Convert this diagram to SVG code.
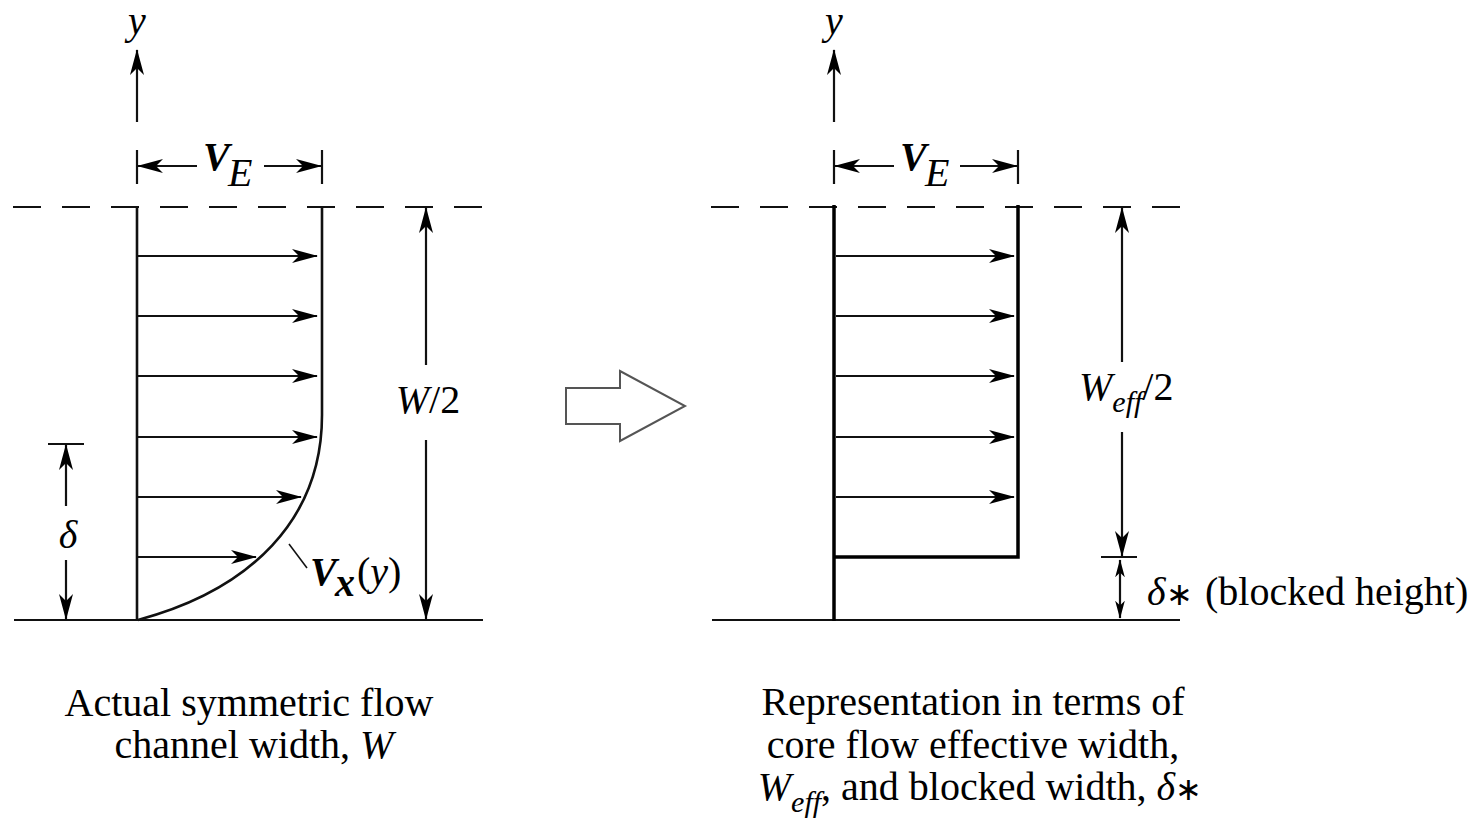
<svg xmlns="http://www.w3.org/2000/svg" width="1482" height="821" viewBox="0 0 1482 821">
<style>
.ln{stroke:#111;stroke-width:2.2;fill:none}
.thk{stroke:#000;stroke-width:3.5;fill:none}
.dash{stroke:#111;stroke-width:2;stroke-dasharray:28 21;fill:none}
.t{font-family:"Liberation Serif","Times New Roman",serif;fill:#000;font-size:40px}
.i{font-style:italic}
.b{font-weight:bold}
.ar{marker-end:url(#ah)}
</style>
<defs>
<marker id="ah" markerUnits="userSpaceOnUse" viewBox="0 0 26 14" markerWidth="26" markerHeight="14" refX="25" refY="7" orient="auto">
<path d="M0,0 L26,7 L0,14 L7,7 z" fill="#000"/>
</marker>
<marker id="ahm" markerUnits="userSpaceOnUse" viewBox="0 0 26 14" markerWidth="18" markerHeight="10" refX="25" refY="7" orient="auto-start-reverse">
<path d="M0,0 L26,7 L0,14 L7,7 z" fill="#000"/>
</marker>
</defs>

<g id="left-panel">
<line class="dash" x1="13" y1="207" x2="484" y2="207"/>
<line class="ln" x1="14" y1="620" x2="483" y2="620"/>
<line class="ln" x1="137" y1="207" x2="137" y2="620" style="stroke-width:2.6"/>
<path class="ln" d="M322,207 L322,415 C322,520 250,590 138,620" style="stroke-width:2.6"/>
<g id="left-y-axis">
<line class="ln ar" x1="137" y1="122" x2="137" y2="50"/>
<text class="t i" x="137" y="34" text-anchor="middle" font-size="35">y</text>
</g>
<g id="left-ve">
<line class="ln" x1="137" y1="150" x2="137" y2="184"/>
<line class="ln" x1="322" y1="150" x2="322" y2="184"/>
<line class="ln ar" x1="197" y1="166" x2="138" y2="166"/>
<line class="ln ar" x1="264" y1="166" x2="321" y2="166"/>
<text class="t i b" x="203" y="170" font-size="46" fill="#333">V</text>
<text class="t i" x="228" y="186" font-size="32">E</text>
</g>
<g id="left-velocity-arrows">
<line class="ln ar" x1="137" y1="256" x2="317" y2="256"/>
<line class="ln ar" x1="137" y1="316" x2="317" y2="316"/>
<line class="ln ar" x1="137" y1="376" x2="317" y2="376"/>
<line class="ln ar" x1="137" y1="437" x2="317" y2="437"/>
<line class="ln ar" x1="137" y1="497" x2="301" y2="497"/>
<line class="ln ar" x1="137" y1="557" x2="256" y2="557"/>
</g>
<g id="left-w2">
<line class="ln ar" x1="426" y1="365" x2="426" y2="208"/>
<line class="ln ar" x1="426" y1="440" x2="426" y2="619"/>
<text class="t" x="428" y="413" text-anchor="middle"><tspan class="i">W</tspan>/2</text>
</g>
<g id="left-delta">
<line class="ln" x1="48" y1="444" x2="84" y2="444"/>
<line class="ln ar" x1="66" y1="506" x2="66" y2="445"/>
<line class="ln ar" x1="66" y1="560" x2="66" y2="619"/>
<text class="t i" x="68" y="548" text-anchor="middle">δ</text>
</g>
<g id="left-vx">
<line class="ln" x1="289" y1="544" x2="307" y2="568" style="stroke-width:1.6"/>
<text class="t i b" x="310" y="585" font-size="42" fill="#333">V</text>
<text class="t i b" x="335" y="596" font-size="26" fill="#333">x</text>
<text class="t" x="357" y="585">(<tspan class="i">y</tspan>)</text>
</g>
<g id="left-caption">
<text class="t" x="249" y="716" text-anchor="middle">Actual symmetric flow</text>
<text class="t" x="254" y="758" text-anchor="middle">channel width, <tspan class="i">W</tspan></text>
</g>
</g>

<g id="transform-arrow">
<path d="M566,388 L620,388 L620,371 L685,406 L620,441 L620,424 L566,424 Z" fill="#fff" stroke="#555" stroke-width="2"/>
</g>

<g id="right-panel">
<line class="dash" x1="711" y1="207" x2="1182" y2="207"/>
<line class="ln" x1="712" y1="620" x2="1180" y2="620"/>
<line class="thk" x1="834" y1="205" x2="834" y2="621"/>
<path class="thk" d="M1018,205 L1018,557 L834,557"/>
<g id="right-y-axis">
<line class="ln ar" x1="834" y1="122" x2="834" y2="50"/>
<text class="t i" x="834" y="34" text-anchor="middle" font-size="35">y</text>
</g>
<g id="right-ve">
<line class="ln" x1="834" y1="150" x2="834" y2="184"/>
<line class="ln" x1="1018" y1="150" x2="1018" y2="184"/>
<line class="ln ar" x1="894" y1="166" x2="835" y2="166"/>
<line class="ln ar" x1="960" y1="166" x2="1017" y2="166"/>
<text class="t i b" x="900" y="170" font-size="46" fill="#333">V</text>
<text class="t i" x="925" y="186" font-size="32">E</text>
</g>
<g id="right-velocity-arrows">
<line class="ln ar" x1="836" y1="256" x2="1014" y2="256"/>
<line class="ln ar" x1="836" y1="316" x2="1014" y2="316"/>
<line class="ln ar" x1="836" y1="376" x2="1014" y2="376"/>
<line class="ln ar" x1="836" y1="437" x2="1014" y2="437"/>
<line class="ln ar" x1="836" y1="497" x2="1014" y2="497"/>
</g>
<g id="right-weff">
<line class="ln ar" x1="1122" y1="362" x2="1122" y2="208"/>
<line class="ln ar" x1="1122" y1="432" x2="1122" y2="556"/>
<line class="ln" x1="1101" y1="557" x2="1137" y2="557"/>
<text class="t" x="1079" y="400"><tspan class="i">W</tspan><tspan class="i" font-size="30" dy="12">eff</tspan><tspan dy="-12">/2</tspan></text>
</g>
<g id="right-deltastar">
<line class="ln" x1="1120" y1="560" x2="1120" y2="618" style="marker-start:url(#ahm);marker-end:url(#ahm)"/>
<text class="t" x="1147" y="605"><tspan class="i">δ</tspan><tspan font-size="32">∗</tspan><tspan x="1205">(blocked height)</tspan></text>
</g>
<g id="right-caption">
<text class="t" x="973" y="715" text-anchor="middle">Representation in terms of</text>
<text class="t" x="973" y="758" text-anchor="middle">core flow effective width,</text>
<text class="t" x="980" y="800" text-anchor="middle"><tspan class="i">W</tspan><tspan class="i" font-size="30" dy="12">eff</tspan><tspan dy="-12">, and blocked width, </tspan><tspan class="i">δ</tspan><tspan font-size="32">∗</tspan></text>
</g>
</g>
</svg>
